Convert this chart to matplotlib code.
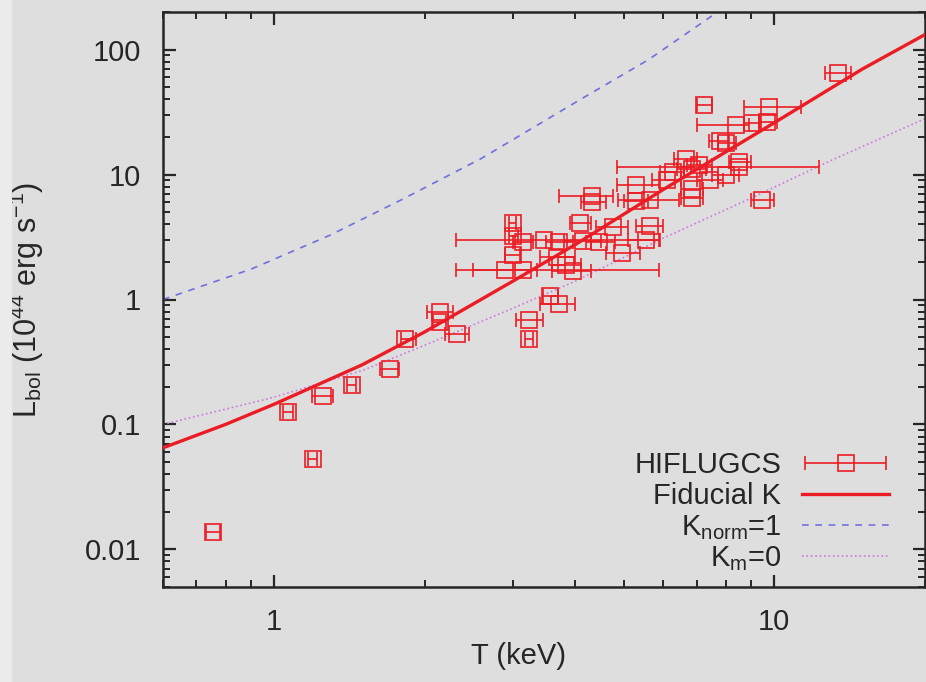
import numpy as np
import matplotlib
matplotlib.use("Agg")
import matplotlib.pyplot as plt
from matplotlib.ticker import LogLocator, FuncFormatter, NullFormatter
from matplotlib.patches import Rectangle
from matplotlib.legend_handler import HandlerErrorbar

plt.rcParams['font.family'] = ['Liberation Sans', 'DejaVu Sans']
plt.rcParams['mathtext.fontset'] = 'custom'
plt.rcParams['mathtext.rm'] = 'Liberation Sans'
plt.rcParams['mathtext.it'] = 'Liberation Sans'

# ---- HIFLUGCS data (T in keV, L_bol in 1e44 erg/s, T error-bar ends) ----
T_obs = [0.756, 1.066, 1.196, 1.252, 1.431, 1.704, 1.826, 2.145, 2.145, 2.32,
         3.24, 3.24, 3.56, 3.72, 3.00, 3.00, 3.00, 2.89, 3.14, 3.47,
         3.67, 3.95, 3.72, 4.08, 4.14, 4.47, 4.75, 4.97, 5.63, 5.55,
         3.84, 4.33, 4.33, 5.30, 5.63, 6.09, 6.26, 6.86, 6.86, 7.08,
         7.42, 6.67, 6.86, 8.51, 8.02, 8.40, 9.04, 9.68, 9.77, 7.25,
         7.77, 13.4, 9.46, 8.50, 8.00, 5.30, 3.14]
L_obs = [0.0137, 0.125, 0.0525, 0.168, 0.205, 0.28, 0.48, 0.79, 0.66, 0.53,
         0.69, 0.48, 1.06, 0.92, 4.1, 3.2, 2.25, 1.72, 1.72, 3.0,
         2.2, 1.7, 2.9, 4.1, 2.95, 2.9, 3.8, 2.35, 3.85, 3.0,
         1.9, 6.7, 6.0, 8.3, 6.3, 9.1, 10.4, 7.6, 6.5, 12.0,
         9.1, 13.2, 11.0, 11.4, 18.0, 25.0, 26.0, 26.5, 35.0, 36.0,
         18.4, 65.0, 6.3, 12.5, 10.0, 6.1, 2.9]
T_lo = [0.73, 1.04, 1.17, 1.19, 1.40, 1.63, 1.79, 2.02, 2.08, 2.20,
        3.05, 3.18, 3.45, 3.40, 2.95, 2.95, 2.90, 2.31, 2.50, 2.31,
        3.40, 3.60, 3.50, 3.90, 3.80, 4.20, 4.40, 4.60, 5.30, 5.10,
        3.60, 3.72, 4.10, 4.84, 4.87, 5.70, 5.90, 6.50, 6.50, 6.70,
        7.00, 6.30, 6.40, 4.84, 7.70, 7.02, 8.70, 9.30, 8.71, 7.00,
        7.40, 12.6, 9.00, 8.10, 7.50, 5.00, 3.00]
T_hi = [0.78, 1.09, 1.22, 1.31, 1.46, 1.78, 1.92, 2.28, 2.21, 2.45,
        3.45, 3.30, 3.70, 4.00, 3.05, 3.08, 3.10, 3.35, 5.89, 5.89,
        4.00, 4.30, 3.95, 4.30, 4.50, 4.80, 5.10, 5.40, 6.00, 5.90,
        4.10, 4.75, 4.60, 5.90, 6.45, 6.50, 6.60, 7.20, 7.20, 7.50,
        7.90, 7.00, 7.30, 12.3, 8.40, 8.91, 9.40, 10.1, 11.3, 7.50,
        8.10, 14.2, 10.0, 9.00, 8.50, 5.60, 3.30]

# ---- model curves ----
T_fid = [0.6, 0.8, 1.0, 1.5, 2.0, 3.0, 4.0, 6.0, 10.0, 15.0, 20.0]
L_fid = [0.065, 0.10, 0.145, 0.30, 0.55, 1.4, 2.75, 7.6, 26.0, 70.0, 132.0]

T_norm = [0.6, 0.9, 1.3, 1.8, 2.6, 4.1, 5.6, 7.7, 8.5]
L_norm = [1.0, 1.75, 3.3, 6.3, 13.5, 40.0, 83.0, 200.0, 260.0]

T_km0 = [0.6, 1.0, 1.5, 2.0, 3.0, 4.0, 6.0, 9.0, 13.0, 20.0]
L_km0 = [0.1, 0.165, 0.27, 0.43, 0.85, 1.4, 3.1, 6.5, 13.0, 28.0]

x_ticks = [1, 10]
y_ticks = [0.01, 0.1, 1, 10, 100]

bg = '#dedede'
txt = '#262626'
red = '#ec1c24'

fig = plt.figure(figsize=(9.26, 6.82), dpi=100, facecolor=bg)
ax = fig.add_axes([163/926, 1-587/682, (925-163)/926, (587-12)/682])
ax.set_facecolor(bg)

T_obs_a = np.array(T_obs)
xerr = np.vstack([T_obs_a - np.array(T_lo), np.array(T_hi) - T_obs_a])
h_obs = ax.errorbar(T_obs, L_obs, xerr=xerr, fmt='s', ms=11, mfc='none', mec=red,
                    mew=1.2, color=red, ecolor=red, elinewidth=1.2, capsize=5,
                    capthick=1.2, label='HIFLUGCS', zorder=3)
h_fid, = ax.plot(T_fid, L_fid, '-', color=red, lw=2.4, label='Fiducial K', zorder=4)
h_norm, = ax.plot(T_norm, L_norm, '--', color='#6f6fe0', lw=1.2, dashes=(4, 4),
                  label=r'K$_{\rm norm}$=1', zorder=2)
h_km, = ax.plot(T_km0, L_km0, ':', color='#cc77dd', lw=1.2, label=r'K$_{\rm m}$=0', zorder=2)

ax.set_xscale('log')
ax.set_yscale('log')
ax.set_xlim(0.6, 20)
ax.set_ylim(0.005, 200)

ax.xaxis.set_minor_locator(LogLocator(base=10, subs=np.arange(2, 10)))
ax.yaxis.set_minor_locator(LogLocator(base=10, subs=np.arange(2, 10), numticks=20))
ax.set_xticks(x_ticks)
ax.set_yticks(y_ticks)
fmt = FuncFormatter(lambda v, p: '%g' % v)
ax.xaxis.set_major_formatter(fmt)
ax.yaxis.set_major_formatter(fmt)
ax.xaxis.set_minor_formatter(NullFormatter())
ax.yaxis.set_minor_formatter(NullFormatter())

ax.tick_params(which='both', direction='in', top=True, right=True, colors=txt,
               labelsize=21, labelcolor=txt)
ax.tick_params(which='major', length=9, width=1.6)
ax.tick_params(which='minor', length=5, width=1.4)
ax.tick_params(axis='x', which='major', pad=15)
ax.tick_params(axis='y', which='major', pad=16)
for s in ax.spines.values():
    s.set_linewidth(1.8)
    s.set_color(txt)

ax.set_xlabel('T (keV)', fontsize=21, color=txt)
ax.xaxis.set_label_coords(0.467, -0.095)
ax.set_ylabel(r'L$_{\rm bol}$ (10$^{44}$ erg s$^{-1}$)', fontsize=22, color=txt)
ax.yaxis.set_label_coords(-0.154, 0.5)

leg = ax.legend([h_obs, h_fid, h_norm, h_km],
                ['HIFLUGCS', 'Fiducial K', r'K$_{\rm norm}$=1', r'K$_{\rm m}$=0'],
                loc='lower right', bbox_to_anchor=(0.98, -0.012), frameon=False,
                markerfirst=False, fontsize=21, handlelength=3.0,
                handletextpad=0.7, labelspacing=0.1, borderpad=0.2,
                handler_map={h_obs: HandlerErrorbar(xerr_size=1.4)})
for t in leg.get_texts():
    t.set_color(txt)

fig.patches.append(Rectangle((0, 0), 12/926, 1, transform=fig.transFigure,
                             facecolor='#ebebeb', edgecolor='none', zorder=10))

fig.savefig('out.png', dpi=100, facecolor=bg)
